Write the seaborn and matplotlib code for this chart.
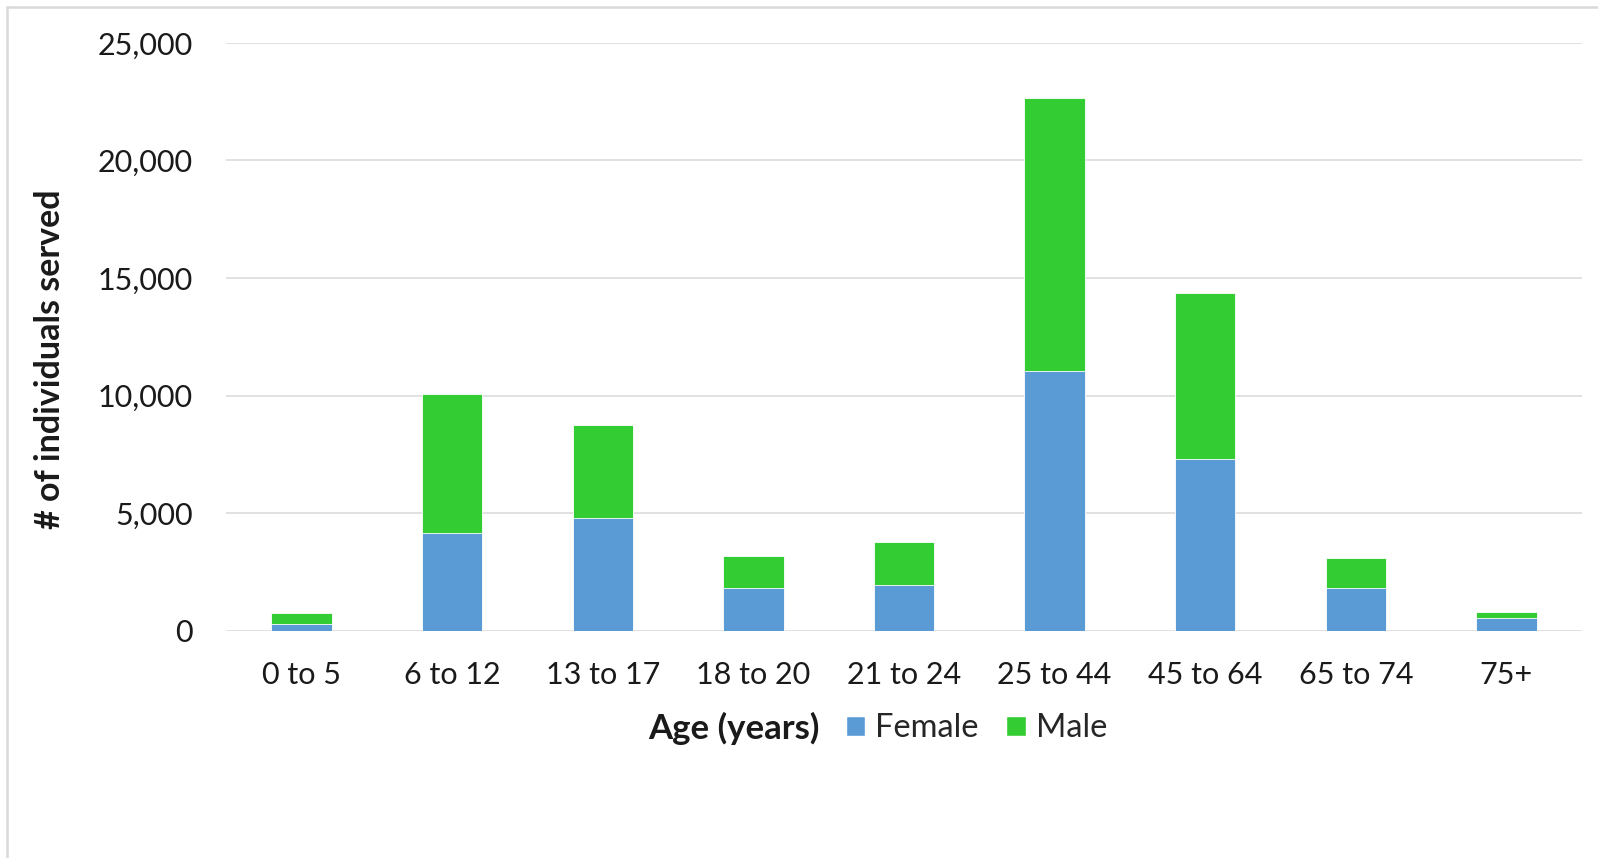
import pandas as pd
import matplotlib
matplotlib.use("Agg")
import matplotlib.pyplot as plt
from matplotlib.patches import Patch
from matplotlib.lines import Line2D
from matplotlib.ticker import FuncFormatter
import seaborn as sns


age_groups = ["0 to 5", "6 to 12", "13 to 17", "18 to 20", "21 to 24",
              "25 to 44", "45 to 64", "65 to 74", "75+"]
female = [272, 4167, 4775, 1801, 1941, 11062, 7298, 1801, 527]
male = [497, 5905, 3963, 1372, 1844, 11585, 7056, 1296, 267]

female_color = "#5B9BD5"
male_color = "#33CC33"
grid_color = "#D9D9D9"

df = pd.DataFrame({"age": age_groups, "Female": female, "Male": male})
df["total"] = df["Female"] + df["Male"]

sns.set_style("white")
plt.rcParams["font.family"] = ["Lato", "DejaVu Sans"]

fig = plt.figure(figsize=(15.98, 8.58), dpi=100)
ax = fig.add_axes([0.1416, 0.2648, 0.8482, 0.6853])

# stacked: total in green, female drawn over it from zero
sns.barplot(data=df, x="age", y="total", color=male_color, width=0.4,
            saturation=1, edgecolor="white", linewidth=0.6, ax=ax, zorder=2)
sns.barplot(data=df, x="age", y="Female", color=female_color, width=0.4,
            saturation=1, edgecolor="white", linewidth=0.6, ax=ax, zorder=3)

ax.set_ylim(0, 25000)
ax.set_yticks(range(0, 25001, 5000))
ax.yaxis.set_major_formatter(FuncFormatter(lambda v, p: f"{int(v):,}"))
ax.set_xlim(-0.5, len(age_groups) - 0.5)
ax.grid(axis="y", color=grid_color, linewidth=1.1, zorder=0)
ax.set_axisbelow(True)
sns.despine(ax=ax, left=True, bottom=True)
ax.tick_params(axis="both", length=0, labelsize=22, colors="#1a1a1a")
ax.tick_params(axis="y", pad=24)
ax.tick_params(axis="x", pad=22)
ax.set_xlabel("")
ax.set_ylabel("")

fig.text(0.031, 0.581, "# of individuals served", rotation=90, fontsize=24.5,
         fontweight="bold", ha="center", va="center", color="#1a1a1a")
fig.text(0.4056, 0.1510, "Age (years)", fontsize=25, fontweight="bold",
         ha="left", va="center", color="#1a1a1a")

handles = [Patch(facecolor=female_color, label="Female"),
           Patch(facecolor=male_color, label="Male")]
fig.legend(handles=handles, loc="center left", bbox_to_anchor=(0.5293, 0.1510),
           ncol=2, frameon=False, fontsize=23.5, handlelength=0.6, handleheight=0.6,
           handletextpad=0.3, columnspacing=0.85, borderpad=0, borderaxespad=0)

# light frame on the left and top edges
fig.add_artist(Line2D([0.0045, 0.0045], [0, 0.992], transform=fig.transFigure,
                      color=grid_color, linewidth=1.8))
fig.add_artist(Line2D([0.0045, 1], [0.992, 0.992], transform=fig.transFigure,
                      color=grid_color, linewidth=1.8))

fig.savefig("out.png", dpi=100, facecolor="white")
